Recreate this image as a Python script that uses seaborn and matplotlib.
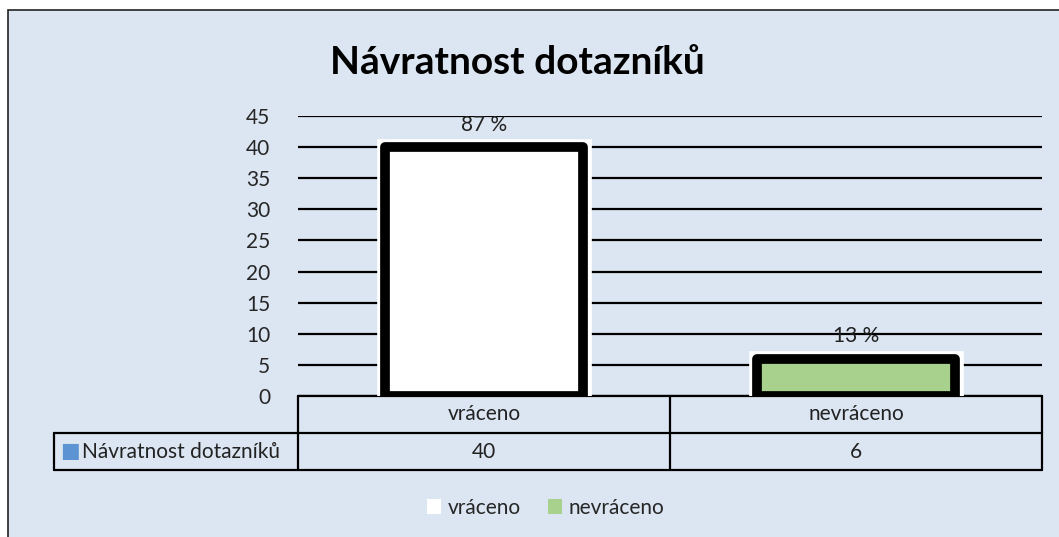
import matplotlib
matplotlib.use("Agg")
import matplotlib.pyplot as plt
import matplotlib.patheffects as pe
from matplotlib.patches import Rectangle
from matplotlib.lines import Line2D
import matplotlib.transforms as mtransforms
import seaborn as sns

# data
categories = ["vráceno", "nevráceno"]
counts = [40, 6]
percent_labels = ["87 %", "13 %"]
bar_colors = ["#ffffff", "#a9d18e"]
series_name = "Návratnost dotazníků"
title = "Návratnost dotazníků"
y_ticks = list(range(0, 50, 5))

BG = "#dce6f2"
FS = 15

sns.set_theme(style="white")
plt.rcParams["font.family"] = ["Lato", "DejaVu Sans"]

fig = plt.figure(figsize=(10.59, 5.37), dpi=100, facecolor="white")
# chart area border
fig.patches.append(Rectangle((8 / 1059, -0.2), 1.2, 0.2 + (537 - 10) / 537,
                             transform=fig.transFigure, facecolor=BG,
                             edgecolor="#222222", linewidth=1.2, zorder=-10))

ax = fig.add_axes([298 / 1059, (537 - 396) / 537, 744 / 1059, 280 / 537])
ax.set_facecolor("none")

sns.barplot(x=categories, y=counts, hue=categories, palette=bar_colors,
            width=0.53, legend=False, ax=ax, zorder=3, saturation=1)

for p in ax.patches:
    p.set_edgecolor("black")
    p.set_linewidth(7)
    p.set_joinstyle("round")
    p.set_path_effects([pe.Stroke(linewidth=12, foreground="white", joinstyle="miter"),
                        pe.Normal()])

for i, (v, lab) in enumerate(zip(counts, percent_labels)):
    ax.annotate(lab, (i, v), xytext=(0, 16), textcoords="offset points",
                ha="center", va="center", fontsize=FS, color="#222222", zorder=5)

ax.set_ylim(0, 45)
ax.set_xlim(-0.5, 1.5)
ax.set_yticks(y_ticks)
ax.set_yticklabels([str(t) for t in y_ticks], fontsize=FS)
ax.tick_params(axis="y", length=0, pad=20)
ax.set_xticks([])
ax.set_xlabel("")
ax.set_ylabel("")
for s in ax.spines.values():
    s.set_visible(False)
ax.yaxis.grid(True, color="black", linewidth=1.6)
ax.set_axisbelow(True)

# data table under the plot
row1 = -37 / 280
row2 = -74 / 280
hdr_x = (54 - 298) / 744
tr = mtransforms.blended_transform_factory(ax.transData, ax.transAxes)
lk = dict(color="black", linewidth=1.6, clip_on=False, transform=ax.transAxes)
ax.add_line(Line2D([0, 1], [0, 0], **lk))
ax.add_line(Line2D([hdr_x, 1], [row1, row1], **lk))
ax.add_line(Line2D([hdr_x, 1], [row2, row2], **lk))
for xv in [0, 0.5, 1]:
    ax.add_line(Line2D([xv, xv], [0, row2], **lk))
ax.add_line(Line2D([hdr_x, hdr_x], [row1, row2], **lk))

for i, (c, v) in enumerate(zip(categories, counts)):
    ax.text(i, row1 / 2, c, transform=tr, ha="center", va="center", fontsize=FS, color="#222222")
    ax.text(i, (row1 + row2) / 2, str(v), transform=tr, ha="center", va="center",
            fontsize=FS, color="#222222")

ax.text(hdr_x + 0.008, (row1 + row2) / 2, "\u25A0", transform=ax.transAxes, ha="left",
        va="center", fontsize=FS, color="#5b93d3")
ax.text(hdr_x + 0.038, (row1 + row2) / 2, series_name, transform=ax.transAxes, ha="left",
        va="center", fontsize=FS, color="#222222")

fig.text(0.489, (537 - 62) / 537, title, ha="center", va="center",
         fontsize=28, fontweight="bold", color="black")

handles = [Rectangle((0, 0), 1, 1, facecolor=c, edgecolor="none") for c in bar_colors]
fig.legend(handles, categories, loc="center", bbox_to_anchor=(0.515, (537 - 508) / 537),
           ncol=2, frameon=False, fontsize=FS, handlelength=0.7, handleheight=0.7,
           handletextpad=0.3, columnspacing=1.3)

fig.savefig("out.png", dpi=100, facecolor="white")
